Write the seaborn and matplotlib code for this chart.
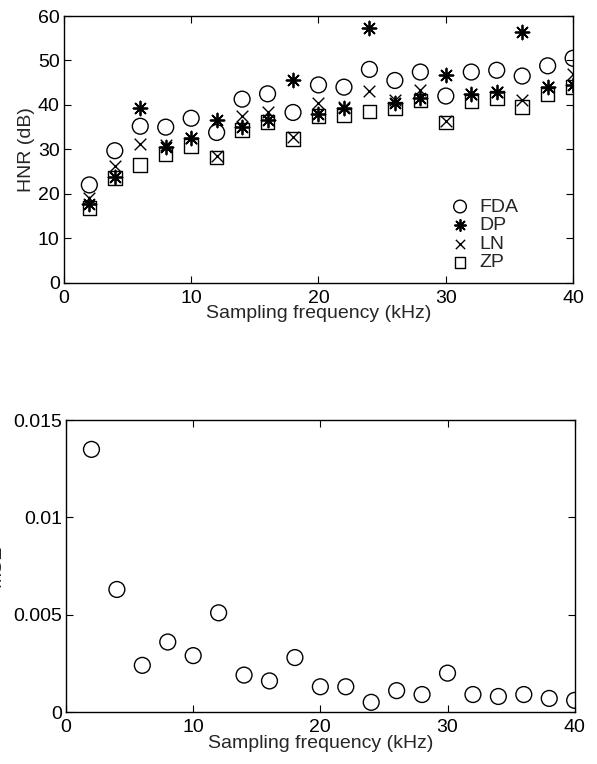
import numpy as np
import pandas as pd
import matplotlib
matplotlib.use("Agg")
import matplotlib.pyplot as plt
from matplotlib.ticker import FuncFormatter
import seaborn as sns

freq = [2, 4, 6, 8, 10, 12, 14, 16, 18, 20, 22, 24, 26, 28, 30, 32, 34, 36, 38, 40]
fda = [22.0, 29.7, 35.2, 35.0, 37.0, 33.8, 41.3, 42.5, 38.3, 44.5, 44.0, 48.0, 45.5, 47.4, 42.0, 47.4, 47.8, 46.5, 48.8, 50.5]
dp = [17.8, 23.8, 39.2, 30.5, 32.5, 36.5, 35.0, 36.5, 45.6, 38.0, 39.2, 57.2, 40.5, 41.5, 46.8, 42.5, 43.0, 56.5, 44.0, 44.5]
ln = [19.0, 26.3, 31.2, 31.0, 32.5, 28.4, 37.5, 38.5, 32.8, 40.5, 39.5, 43.2, 41.0, 43.3, 36.3, 42.5, 43.0, 41.0, 44.0, 47.0]
zp = [16.8, 23.5, 26.5, 29.0, 30.8, 28.2, 34.3, 36.2, 32.3, 37.5, 37.6, 38.5, 39.2, 41.0, 36.0, 40.8, 41.5, 39.5, 42.3, 44.0]
mse = [0.0135, 0.0063, 0.0024, 0.0036, 0.0029, 0.0051, 0.0019, 0.0016, 0.0028, 0.0013, 0.0013, 0.0005, 0.0011, 0.0009, 0.0020, 0.0009, 0.0008, 0.0009, 0.0007, 0.0006]

methods = ["FDA", "DP", "LN", "ZP"]
x_ticks = [0, 10, 20, 30, 40]
y_ticks_top = [0, 10, 20, 30, 40, 50, 60]
y_ticks_bot = [0, 0.005, 0.01, 0.015]

FS = 14

sns.set_theme(style="white")
plt.rcParams["font.family"] = ["Liberation Sans", "DejaVu Sans"]
plt.rcParams["font.size"] = FS

fig = plt.figure(figsize=(5.97, 7.64), dpi=100)
ax1 = fig.add_axes([0.107, 0.630, 0.853, 0.349])
ax2 = fig.add_axes([0.1106, 0.068, 0.852, 0.382])

df = pd.DataFrame({"freq": freq * 4,
                   "hnr": fda + dp + ln + zp,
                   "method": sum([[m] * len(freq) for m in methods], [])})

styles = {
    "FDA": dict(marker="o", s=130, facecolors="none", edgecolors="black", linewidths=1.0),
    "DP": dict(marker=(8, 2, 0), s=100, color="black", linewidths=1.3),
    "LN": dict(marker="x", s=70, color="black", linewidths=1.0),
    "ZP": dict(marker="s", s=95, facecolors="none", edgecolors="black", linewidths=1.0),
}
for m in methods:
    sub = df[df["method"] == m]
    sns.scatterplot(data=sub, x="freq", y="hnr", ax=ax1, label=m, legend=False, **styles[m])

sns.scatterplot(x=freq, y=mse, ax=ax2, marker="o", s=130, facecolors="none",
                edgecolors="black", linewidths=1.0, legend=False)

fmt = FuncFormatter(lambda v, p: "%g" % v)
for ax in (ax1, ax2):
    ax.set_xlim(0, 40)
    ax.set_xticks(x_ticks)
    ax.xaxis.set_major_formatter(fmt)
    ax.tick_params(direction="in", length=5, width=0.8, top=True, right=True,
                   bottom=True, left=True, labelsize=FS, colors="black")
    ax.tick_params(axis="x", pad=5)
    ax.tick_params(axis="y", pad=3)
    for sp in ax.spines.values():
        sp.set_color("black")
        sp.set_linewidth(1.0)
    ax.set_xlabel("Sampling frequency (kHz)", fontsize=FS, labelpad=-1)
    ax.grid(False)

ax1.set_ylim(0, 60)
ax1.set_yticks(y_ticks_top)
ax1.set_ylabel("HNR (dB)", fontsize=FS, labelpad=2)

ax2.set_ylim(0, 0.015)
ax2.set_yticks(y_ticks_bot)
ax2.yaxis.set_major_formatter(fmt)
ax2.set_ylabel("MSE", fontsize=FS)
ax2.yaxis.set_label_coords(-0.122, 0.5)

handles, labels = ax1.get_legend_handles_labels()
leg = ax1.legend(handles, labels, loc="center", bbox_to_anchor=(0.82, 0.18),
                 frameon=False, fontsize=FS, labelspacing=0.05, handletextpad=0.2,
                 handlelength=1.6, markerscale=0.8)

fig.savefig("out.png", dpi=100)
